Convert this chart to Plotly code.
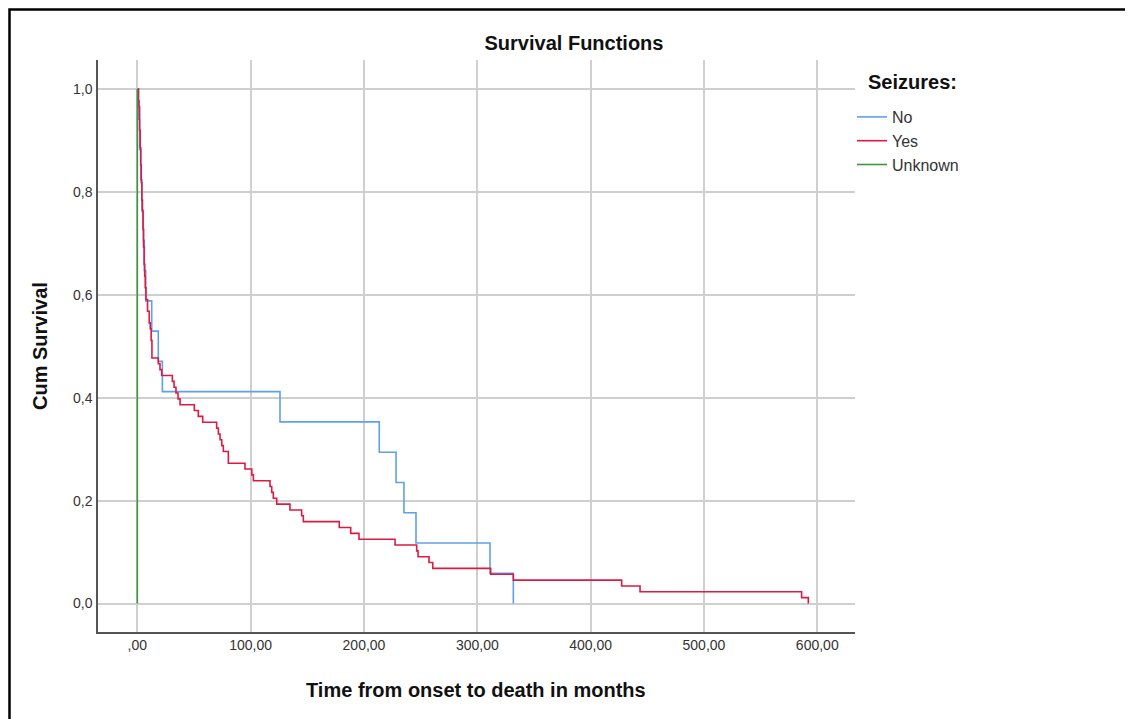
import plotly.graph_objects as go

# ---- data ----
# "No" group (n = 17): event times (months) and cumulative survival after each step
no_time = [0, 1, 2, 3, 4, 5.3, 6.2, 7.4, 12.7, 18.5, 22.1, 125.9, 213.5, 228.3, 235.3, 245.9, 311.2, 331.8]
no_surv = [1.0, 16/17, 15/17, 14/17, 13/17, 12/17, 11/17, 10/17, 9/17, 8/17, 7/17,
           6/17, 5/17, 4/17, 3/17, 2/17, 1/17, 0.0]

# "Yes" group (n = 88): event times and number remaining after each step
yes_time = [0, 1, 1.5, 2, 2.5, 3, 3.5, 4, 4.5, 5, 5.5, 6, 6.5, 7, 7.6, 9, 10.5, 11.4, 12.2, 12.9,
            18.5, 20.0, 21.5, 30.9, 32.4, 34.1, 35.9, 37.7, 50.3, 53.8, 57.7,
            70.0, 71.5, 73.0, 74.5, 75.9, 80.3, 95.0, 101.0, 102.4,
            117.1, 118.6, 120.0, 123.0, 134.7, 145.0, 146.5, 178.2, 188.3, 195.6,
            227.4, 246.5, 247.7, 257.4, 260.7, 311.8, 331.8, 427.4, 443.6, 586.2, 592.1]
yes_left = [88, 86, 85, 81, 78, 75, 72, 69, 67, 64, 61, 58, 56, 54, 52, 50, 48, 47, 45, 42,
            41, 40, 39, 38, 37, 36, 35, 34, 33, 32, 31,
            30, 29, 28, 27, 26, 24, 23, 22, 21,
            20, 19, 18, 17, 16, 15, 14, 13, 12, 11,
            10, 9, 8, 7, 6, 5, 4, 3, 2, 1, 0]
yes_n = 88
yes_surv = [k / yes_n for k in yes_left]

# "Unknown" group: all at time 0
unk_time = [0, 0]
unk_surv = [1.0, 0.0]

x_tick_vals = [0, 100, 200, 300, 400, 500, 600]
x_tick_text = [",00", "100,00", "200,00", "300,00", "400,00", "500,00", "600,00"]
y_tick_vals = [0.0, 0.2, 0.4, 0.6, 0.8, 1.0]
y_tick_text = ["0,0", "0,2", "0,4", "0,6", "0,8", "1,0"]

FONT = "Liberation Sans, Arial, sans-serif"

fig = go.Figure()
fig.add_trace(go.Scatter(x=no_time, y=no_surv, mode="lines", name="No",
                         line=dict(color="#5FA0EA", width=1.6, shape="hv")))
fig.add_trace(go.Scatter(x=yes_time, y=yes_surv, mode="lines", name="Yes",
                         line=dict(color="#DC1A44", width=1.6, shape="hv")))
fig.add_trace(go.Scatter(x=unk_time, y=unk_surv, mode="lines", name="Unknown",
                         line=dict(color="#3F963F", width=1.6, shape="hv")))

# page has an 8px body margin: work in page pixels and subtract it
OFF = 8
W, H = 1133 - OFF, 719 - OFF
L, R, T, B = 98 - OFF, 855 - OFF, 60 - OFF, 632 - OFF


def px_x(p):
    return (p - OFF - L) / (R - L)


def px_y(p):
    return (B - (p - OFF)) / (B - T)


fig.update_layout(
    width=W, height=H,
    margin=dict(l=L, r=W - R, t=T, b=H - B, pad=0),
    paper_bgcolor="white", plot_bgcolor="white",
    font=dict(family=FONT, color="#222222"),
    title=dict(text="<b>Survival Functions</b>", xref="container", yref="container",
               x=(574 - OFF) / W, xanchor="center", y=1 - (43 - OFF) / H, yanchor="middle",
               font=dict(size=20, color="#111111")),
    showlegend=True,
    legend=dict(x=px_x(852), xanchor="left", y=px_y(100), yanchor="top",
                font=dict(size=16, color="#333333"), bgcolor="rgba(0,0,0,0)",
                tracegroupgap=0, itemwidth=30),
    xaxis=dict(range=[-34.7, 633.3], tickvals=x_tick_vals, ticktext=x_tick_text,
               showgrid=True, gridcolor="#CFCFCF", gridwidth=2, zeroline=False,
               showline=True, linecolor="#555555", linewidth=1.5, ticks="",
               tickfont=dict(size=14, color="#333333"), ticklabelstandoff=-1),
    yaxis=dict(range=[-0.0554, 1.0564], tickvals=y_tick_vals, ticktext=y_tick_text,
               showgrid=True, gridcolor="#CFCFCF", gridwidth=2, zeroline=False,
               showline=True, linecolor="#555555", linewidth=1.5, ticks="",
               tickfont=dict(size=14, color="#333333"), ticklabelstandoff=1),
    annotations=[
        dict(text="<b>Time from onset to death in months</b>", xref="paper", yref="paper",
             x=px_x(476), y=px_y(690), xanchor="center", yanchor="middle",
             showarrow=False, font=dict(size=20, color="#111111")),
        dict(text="<b>Cum Survival</b>", xref="paper", yref="paper",
             x=px_x(40), y=px_y(346), xanchor="center", yanchor="middle",
             textangle=-90, showarrow=False, font=dict(size=20, color="#111111")),
        dict(text="<b>Seizures:</b>", xref="paper", yref="paper",
             x=px_x(866), y=px_y(82), xanchor="left", yanchor="middle",
             showarrow=False, font=dict(size=20, color="#111111")),
    ],
    shapes=[
        dict(type="rect", xref="paper", yref="paper",
             x0=px_x(9.5), x1=px_x(1150), y0=px_y(760), y1=px_y(9.5),
             line=dict(color="black", width=2.5), fillcolor="rgba(0,0,0,0)", layer="above"),
    ],
)

fig.write_html("out.html")
